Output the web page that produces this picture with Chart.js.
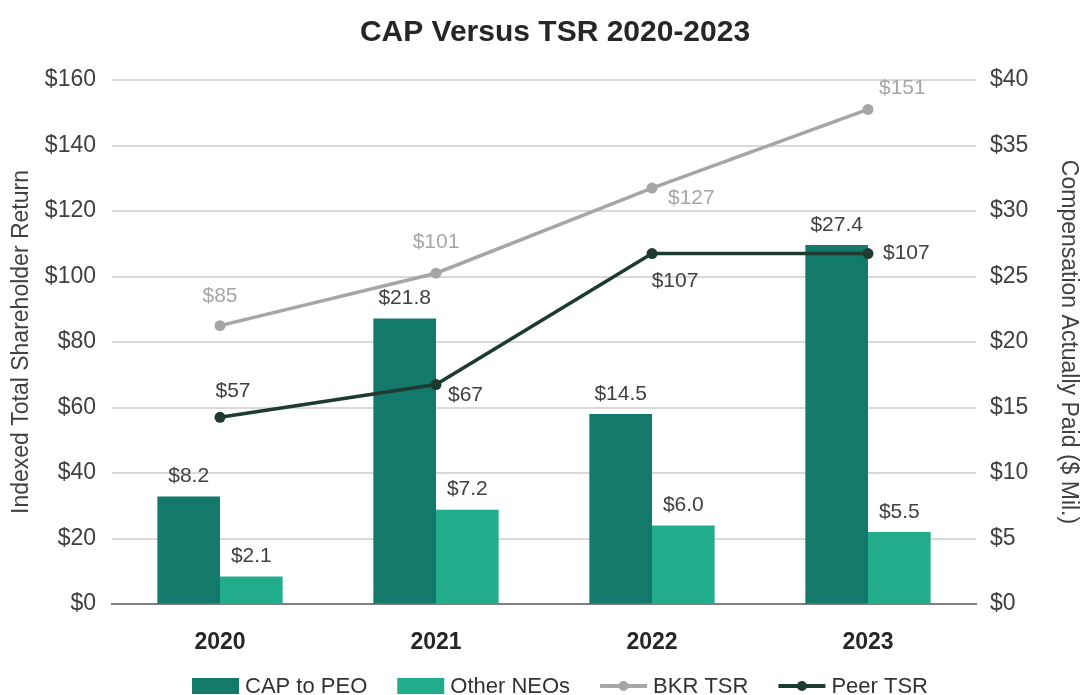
<!DOCTYPE html>
<html>
<head>
<meta charset="utf-8">
<script src="https://cdn.jsdelivr.net/npm/chart.js@4.4.1/dist/chart.umd.min.js"></script>
<style>
  html, body { margin: 0; padding: 0; background: #fff; }
  #wrap { width: 1082px; height: 695px; position: relative; }
</style>
</head>
<body>
<div id="wrap"><canvas id="grafico"></canvas></div>
<script>
// datos
const years = ["2020", "2021", "2022", "2023"];
const capToPeo = [8.2, 21.8, 14.5, 27.4];
const otherNeos = [2.1, 7.2, 6.0, 5.5];
const bkrTsr = [85, 101, 127, 151];
const peerTsr = [57, 67, 107, 107];

const FONT = "'Liberation Sans', Arial, Helvetica, sans-serif";
const colCap = "#137a6b";
const colOther = "#22ad8a";
const colBkr = "#a6a6a6";
const colPeer = "#1e3b2f";

// donde va cada etiqueta respecto a su punto
const posBkr = [
  { dx: 0, dy: -29, align: "center" },
  { dx: 0, dy: -31, align: "center" },
  { dx: 16, dy: 10, align: "left" },
  { dx: 11, dy: -21, align: "left" },
];
const posPeer = [
  { dx: 13, dy: -26, align: "center" },
  { dx: 12, dy: 11, align: "left" },
  { dx: 23, dy: 28, align: "center" },
  { dx: 15, dy: 0, align: "left" },
];

const etiquetas = {
  id: "etiquetas",
  afterDatasetsDraw(chart) {
    const ctx = chart.ctx;
    ctx.save();
    ctx.font = "21px " + FONT;
    ctx.textBaseline = "middle";
    chart.data.datasets.forEach((ds, i) => {
      const meta = chart.getDatasetMeta(i);
      meta.data.forEach((el, j) => {
        const v = ds.data[j];
        let txt, pos;
        if (ds.type === "bar") {
          txt = "$" + v.toFixed(1);
          pos = { dx: 0, dy: -20, align: "center" };
        } else {
          txt = "$" + v;
          pos = ds.posEtiquetas[j];
        }
        ctx.fillStyle = ds.colorEtiqueta;
        ctx.textAlign = pos.align;
        ctx.fillText(txt, el.x + pos.dx, el.y + pos.dy);
      });
    });
    ctx.restore();
  },
};

const tituloYLeyenda = {
  id: "tituloYLeyenda",
  afterDraw(chart) {
    const ctx = chart.ctx;
    ctx.save();
    // titulo
    ctx.font = "bold 30px " + FONT;
    ctx.fillStyle = "#262626";
    ctx.textAlign = "center";
    ctx.textBaseline = "middle";
    ctx.fillText("CAP Versus TSR 2020-2023", 555, 33);

    // leyenda
    ctx.font = "22px " + FONT;
    ctx.textAlign = "left";
    const items = chart.data.datasets.map((ds) => ({
      label: ds.label,
      type: ds.type,
      color: ds.type === "bar" ? ds.backgroundColor : ds.borderColor,
    }));
    const simW = 47, simGap = 6, itemGap = 30;
    let total = 0;
    items.forEach((it, k) => {
      it.w = simW + simGap + ctx.measureText(it.label).width;
      total += it.w + (k ? itemGap : 0);
    });
    let x = 560 - total / 2;
    const y = 686;
    items.forEach((it) => {
      if (it.type === "bar") {
        ctx.fillStyle = it.color;
        ctx.fillRect(x, y - 8, simW, 16);
      } else {
        ctx.strokeStyle = it.color;
        ctx.lineWidth = 4;
        ctx.beginPath();
        ctx.moveTo(x, y);
        ctx.lineTo(x + simW, y);
        ctx.stroke();
        ctx.fillStyle = it.color;
        ctx.beginPath();
        ctx.arc(x + simW / 2, y, 5, 0, Math.PI * 2);
        ctx.fill();
      }
      ctx.fillStyle = "#333333";
      ctx.fillText(it.label, x + simW + simGap, y + 1);
      x += it.w + itemGap;
    });
    ctx.restore();
  },
};

const ctx = document.getElementById("grafico").getContext("2d");
new Chart(ctx, {
  data: {
    labels: years,
    datasets: [
      {
        type: "bar",
        label: "CAP to PEO",
        data: capToPeo,
        yAxisID: "yDer",
        backgroundColor: colCap,
        colorEtiqueta: "#404040",
        order: 2,
      },
      {
        type: "bar",
        label: "Other NEOs",
        data: otherNeos,
        yAxisID: "yDer",
        backgroundColor: colOther,
        colorEtiqueta: "#404040",
        order: 2,
      },
      {
        type: "line",
        label: "BKR TSR",
        data: bkrTsr,
        yAxisID: "yIzq",
        borderColor: colBkr,
        backgroundColor: colBkr,
        borderWidth: 3.5,
        pointRadius: 5.5,
        pointBackgroundColor: colBkr,
        pointBorderWidth: 0,
        colorEtiqueta: "#a6a6a6",
        posEtiquetas: posBkr,
        order: 1,
      },
      {
        type: "line",
        label: "Peer TSR",
        data: peerTsr,
        yAxisID: "yIzq",
        borderColor: colPeer,
        backgroundColor: colPeer,
        borderWidth: 3.5,
        pointRadius: 5.5,
        pointBackgroundColor: colPeer,
        pointBorderWidth: 0,
        colorEtiqueta: "#404040",
        posEtiquetas: posPeer,
        order: 0,
      },
    ],
  },
  options: {
    responsive: true,
    maintainAspectRatio: false,
    animation: false,
    layout: { padding: { top: 80, bottom: 40, left: 0, right: 0 } },
    plugins: {
      legend: { display: false },
      title: { display: false },
      tooltip: { enabled: false },
    },
    datasets: {
      bar: { categoryPercentage: 0.58, barPercentage: 1 },
    },
    scales: {
      x: {
        grid: { display: false },
        border: { display: true, color: "#7f7f7f", width: 2 },
        ticks: {
          color: "#262626",
          font: { family: FONT, size: 23, weight: "bold" },
          padding: 17,
        },
        afterFit(s) { s.height = 51; },
      },
      yIzq: {
        position: "left",
        min: 0,
        max: 160,
        ticks: {
          stepSize: 20,
          color: "#404040",
          font: { family: FONT, size: 23 },
          padding: 16,
          callback: (v) => "$" + v,
        },
        grid: { color: "#d9d9d9", lineWidth: 2, drawTicks: false },
        border: { display: false },
        title: {
          display: true,
          text: "Indexed Total Shareholder Return",
          color: "#404040",
          font: { family: FONT, size: 23 },
          padding: { top: 8, bottom: 0 },
        },
        afterFit(s) { s.width = 112; },
      },
      yDer: {
        position: "right",
        min: 0,
        max: 40,
        ticks: {
          stepSize: 5,
          color: "#404040",
          font: { family: FONT, size: 23 },
          padding: 14,
          callback: (v) => "$" + v,
        },
        grid: { drawOnChartArea: false, drawTicks: false },
        border: { display: false },
        title: {
          display: true,
          text: "Compensation Actually Paid ($ Mil.)",
          color: "#404040",
          font: { family: FONT, size: 23 },
          padding: { top: 0, bottom: 0 },
        },
        afterFit(s) { s.width = 106; },
      },
    },
  },
  plugins: [etiquetas, tituloYLeyenda],
});
</script>
</body>
</html>
